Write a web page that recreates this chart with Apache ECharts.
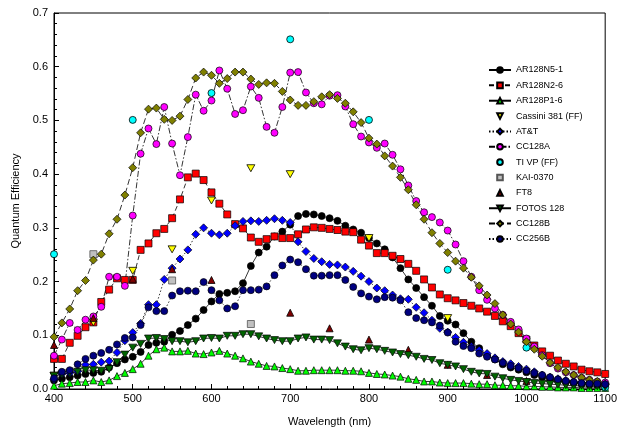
<!DOCTYPE html>
<html><head><meta charset="utf-8">
<script src="https://cdn.jsdelivr.net/npm/echarts@6/dist/echarts.min.js"></script>
<style>html,body{margin:0;padding:0;background:#fff}#c{width:620px;height:432px}</style>
</head><body><div id="c"></div>
<script>
const wavelengths = [400,410,420,430,440,450,460,470,480,490,500,510,520,530,540,550,560,570,580,590,600,610,620,630,640,650,660,670,680,690,700,710,720,730,740,750,760,770,780,790,800,810,820,830,840,850,860,870,880,890,900,910,920,930,940,950,960,970,980,990,1000,1010,1020,1030,1040,1050,1060,1070,1080,1090,1100];

const ar128n5_1 = [0.016,0.019,0.022,0.025,0.028,0.030,0.032,0.040,0.048,0.055,
0.060,0.069,0.082,0.086,0.088,0.101,0.108,0.119,0.131,0.147,
0.163,0.177,0.179,0.182,0.197,0.229,0.254,0.265,0.284,0.293,
0.306,0.322,0.326,0.325,0.322,0.318,0.313,0.304,0.297,0.291,
0.281,0.271,0.260,0.245,0.225,0.204,0.188,0.171,0.155,0.136,
0.127,0.120,0.104,0.088,0.076,0.062,0.055,0.046,0.040,0.036,
0.031,0.026,0.022,0.018,0.016,0.013,0.011,0.009,0.008,0.007,0.007];

const ar128n2_6 = [0.056,0.056,0.086,0.099,0.115,0.124,0.162,0.185,0.206,0.203,
0.203,0.259,0.271,0.290,0.298,0.318,0.353,0.394,0.401,0.389,
0.366,0.345,0.325,0.307,0.299,0.282,0.274,0.279,0.284,0.281,
0.281,0.288,0.297,0.301,0.300,0.298,0.296,0.293,0.292,0.278,
0.267,0.253,0.253,0.248,0.242,0.233,0.220,0.204,0.189,0.176,
0.169,0.165,0.160,0.155,0.150,0.144,0.136,0.126,0.117,0.104,
0.092,0.081,0.070,0.062,0.053,0.047,0.042,0.036,0.033,0.031,0.028];

const ar128p1_6 = [0.006,0.010,0.011,0.013,0.013,0.016,0.013,0.016,0.024,0.030,
0.037,0.047,0.062,0.074,0.077,0.070,0.070,0.071,0.066,0.065,
0.068,0.071,0.066,0.062,0.057,0.051,0.047,0.043,0.042,0.039,
0.037,0.034,0.034,0.035,0.035,0.035,0.035,0.034,0.034,0.033,
0.030,0.028,0.027,0.025,0.023,0.019,0.017,0.014,0.014,0.012,
0.011,0.011,0.011,0.010,0.009,0.009,0.007,0.007,0.006,0.006,
0.005,0.005,0.004,0.004,0.003,0.003,0.003,0.002,0.002,0.002,0.002];

const att = [0.018,0.028,0.030,0.033,0.045,0.046,0.050,0.052,0.068,0.090,
0.105,0.122,0.157,0.157,0.204,0.225,0.242,0.259,0.288,0.300,
0.290,0.287,0.290,0.304,0.312,0.313,0.312,0.314,0.317,0.314,
0.310,0.274,0.256,0.243,0.237,0.232,0.231,0.227,0.219,0.210,
0.200,0.188,0.183,0.175,0.168,0.167,0.152,0.142,0.128,0.113,
0.106,0.096,0.087,0.079,0.072,0.066,0.058,0.051,0.047,0.042,
0.037,0.032,0.026,0.022,0.019,0.016,0.014,0.012,0.011,0.010,0.009];

const cc128a = [0.062,0.092,0.123,0.110,0.129,0.135,0.153,0.209,0.209,0.192,
0.323,0.438,0.485,0.456,0.525,0.457,0.398,0.469,0.548,0.518,
0.537,0.593,0.559,0.512,0.519,0.563,0.542,0.488,0.477,0.525,
0.589,0.590,0.552,0.532,0.530,0.546,0.547,0.526,0.493,0.470,
0.459,0.449,0.457,0.436,0.409,0.379,0.350,0.329,0.320,0.310,
0.295,0.269,0.238,0.209,0.184,0.166,0.150,0.138,0.125,0.111,
0.094,0.079,0.063,0.048,0.038,0.031,0.026,0.021,0.017,0.014,0.012];

const fotos128 = [0.024,0.027,0.030,0.032,0.035,0.035,0.034,0.037,0.050,0.064,
0.077,0.084,0.094,0.095,0.093,0.089,0.089,0.087,0.089,0.094,
0.095,0.094,0.099,0.099,0.102,0.102,0.098,0.094,0.091,0.089,
0.089,0.094,0.096,0.092,0.092,0.091,0.085,0.079,0.074,0.072,
0.076,0.074,0.071,0.068,0.065,0.063,0.060,0.056,0.054,0.048,
0.045,0.042,0.037,0.032,0.029,0.028,0.023,0.020,0.017,0.015,
0.013,0.011,0.010,0.009,0.008,0.007,0.006,0.006,0.005,0.005,0.004];

const cc128b = [0.097,0.123,0.149,0.183,0.202,0.240,0.251,0.289,0.316,0.361,
0.412,0.477,0.521,0.523,0.502,0.500,0.508,0.539,0.579,0.590,
0.584,0.569,0.578,0.590,0.590,0.577,0.567,0.570,0.569,0.554,
0.538,0.528,0.528,0.535,0.544,0.548,0.541,0.532,0.516,0.496,
0.467,0.456,0.434,0.415,0.394,0.371,0.343,0.316,0.291,0.271,
0.254,0.238,0.225,0.208,0.192,0.175,0.159,0.138,0.121,0.106,
0.088,0.074,0.061,0.049,0.040,0.032,0.026,0.021,0.017,0.014,0.009];

const cc256b = [0.020,0.032,0.035,0.046,0.056,0.062,0.067,0.073,0.083,0.095,
0.096,0.119,0.152,0.145,0.145,0.174,0.182,0.183,0.182,0.199,
0.184,0.165,0.150,0.154,0.184,0.184,0.185,0.191,0.212,0.230,
0.241,0.236,0.223,0.211,0.211,0.212,0.212,0.203,0.190,0.178,
0.172,0.167,0.171,0.170,0.165,0.143,0.132,0.128,0.124,0.118,
0.105,0.088,0.080,0.076,0.066,0.060,0.055,0.049,0.043,0.039,
0.034,0.030,0.026,0.022,0.018,0.015,0.013,0.011,0.010,0.010,0.009];

const cassiniWl = [400,450,500,550,600,650,700,800,900,1000];
const cassini = [0.025,0.124,0.220,0.260,0.351,0.411,0.400,0.281,0.132,0.012];

const tivpWl = [400,500,600,700,800,900,1000,1100];
const tivp = [0.251,0.501,0.551,0.651,0.501,0.222,0.077,0.003];

const kaiWl = [450,550,650];
const kai = [0.251,0.202,0.121];

const ft8Wl = [400,450,500,550,600,700,750,800,850,900,950,1000];
const ft8 = [0.082,0.132,0.205,0.223,0.203,0.142,0.113,0.092,0.073,0.045,0.026,0.015];

const yTicks = [0.0,0.1,0.2,0.3,0.4,0.5,0.6,0.7];
const xTicks = [400,500,600,700,800,900,1000,1100];

const FONT = 'Liberation Sans, Arial, sans-serif';
const triDown = 'path://M0,0L10,0L5,9Z';

function pairs(xs, ys){ return xs.map((x,i)=>[x, ys[i]]); }

function lineS(name, ys, symbol, color, dash, size){
  return {name, type:'line', data:pairs(wavelengths, ys), symbol, symbolSize:size, showSymbol:true,
    lineStyle:{color:'#000', width:0.8, type:dash}, itemStyle:{color, borderColor:'#000', borderWidth:0.7},
    emphasis:{disabled:true}, animation:false};
}
// markers only: a line series whose connecting line is hidden, so the legend shows just the marker
function markS(name, xs, ys, symbol, color, size, border){
  return {name, type:'line', data:pairs(xs, ys), symbol, symbolSize:size, showSymbol:true,
    lineStyle:{color:'#000', width:0, opacity:0}, itemStyle:{color, borderColor:border||'#000', borderWidth:0.8},
    emphasis:{disabled:true}, animation:false, z:3};
}

const series = [
  lineS('AR128N5-1', ar128n5_1, 'circle', '#000000', 'solid', 7),
  lineS('AR128N2-6', ar128n2_6, 'rect', '#ff0000', [5,3], 7),
  lineS('AR128P1-6', ar128p1_6, 'triangle', '#00ff00', 'solid', 7),
  markS('Cassini 381 (FF)', cassiniWl, cassini, triDown, '#ffff00', [8,7]),
  lineS('AT&T', att, 'diamond', '#0000ff', [1.5,2], 8),
  lineS('CC128A', cc128a, 'circle', '#ff00ff', [6,2,1.5,2], 7),
  markS('TI VP (FF)', tivpWl, tivp, 'circle', '#00ffff', 7),
  markS('KAI-0370', kaiWl, kai, 'rect', '#c0c0c0', 7, '#555'),
  markS('FT8', ft8Wl, ft8, 'triangle', '#800000', 7),
  lineS('FOTOS 128', fotos128, triDown, '#006400', 'solid', [8,7]),
  lineS('CC128B', cc128b, 'diamond', '#808000', [6,3], 8),
  lineS('CC256B', cc256b, 'circle', '#000080', [1.5,2], 7)
];

const chart = echarts.init(document.getElementById('c'), null, {renderer:'canvas'});
chart.setOption({
  animation:false,
  backgroundColor:'#fff',
  textStyle:{fontFamily:FONT},
  grid:{left:54, right:11, top:13, bottom:43, show:true, borderColor:'#000', borderWidth:1, backgroundColor:'transparent'},
  legend:{orient:'vertical', left:488, top:65, padding:0, itemWidth:22, itemHeight:7, itemGap:5.36,
    textStyle:{fontFamily:FONT, fontSize:9, color:'#000', lineHeight:10},
    data:series.map(s=>s.name), selectedMode:false},
  xAxis:{type:'value', min:xTicks[0], max:xTicks[xTicks.length-1], interval:100,
    name:'Wavelength (nm)', nameLocation:'middle', nameGap:27,
    nameTextStyle:{fontFamily:FONT, fontSize:11, color:'#000'},
    axisLine:{lineStyle:{color:'#000', width:1}},
    axisTick:{inside:true, length:5, lineStyle:{color:'#000'}},
    minorTick:{show:true, splitNumber:5, length:3, lineStyle:{color:'#000'}},
    splitLine:{show:false},
    axisLabel:{fontFamily:FONT, fontSize:11, color:'#000', margin:4, formatter:v=>String(v)}},
  yAxis:{type:'value', min:yTicks[0], max:yTicks[yTicks.length-1], interval:0.1,
    name:'Quantum Efficiency', nameLocation:'middle', nameGap:31, nameRotate:90,
    nameTextStyle:{fontFamily:FONT, fontSize:11, color:'#000'},
    axisLine:{lineStyle:{color:'#000', width:1}},
    axisTick:{inside:true, length:5, lineStyle:{color:'#000'}},
    minorTick:{show:true, splitNumber:5, length:3, lineStyle:{color:'#000'}},
    splitLine:{show:false},
    axisLabel:{fontFamily:FONT, fontSize:11, color:'#000', margin:6, formatter:v=>v.toFixed(1)}},
  series
});
</script>
</body></html>
